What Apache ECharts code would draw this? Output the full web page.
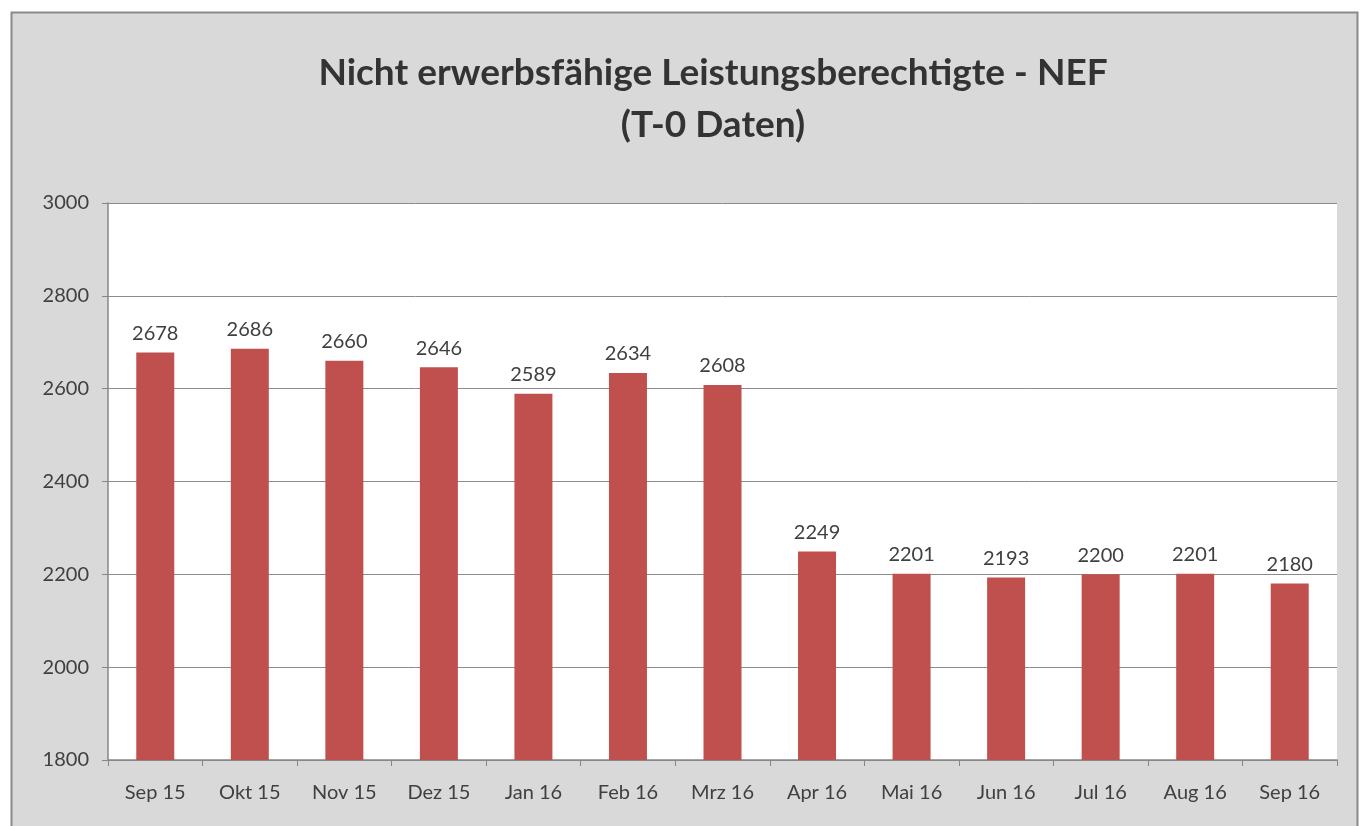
<!DOCTYPE html>
<html><head><meta charset="utf-8">
<script src="https://cdn.jsdelivr.net/npm/echarts@6/dist/echarts.min.js"></script>
<style>html,body{margin:0;padding:0;background:#fff;}#c{width:1366px;height:826px;}</style>
</head><body><div id="c"></div>
<script>
const categories = ['Sep 15','Okt 15','Nov 15','Dez 15','Jan 16','Feb 16','Mrz 16','Apr 16','Mai 16','Jun 16','Jul 16','Aug 16','Sep 16'];
const values = [2678, 2686, 2660, 2646, 2589, 2634, 2608, 2249, 2201, 2193, 2200, 2201, 2180];
const titleLines = ['Nicht erwerbsfähige Leistungsberechtigte - NEF', '(T-0 Daten)'];
const yMin = 1800, yMax = 3000, yStep = 200;

const chart = echarts.init(document.getElementById('c'));
const font = 'Lato, "Open Sans", sans-serif';
chart.setOption({
  backgroundColor: '#ffffff',
  animation: false,
  graphic: [{
    type: 'rect', z: -10, silent: true,
    shape: {x: 11.5, y: 12.5, width: 1346, height: 830},
    style: {fill: '#d9d9d9', stroke: '#8a8a8a', lineWidth: 2}
  }],
  title: {
    text: titleLines.join('\n'),
    left: 708, top: 42, textAlign: 'center',
    textStyle: {fontFamily: font, fontSize: 37, fontWeight: 'bold', color: '#333333', lineHeight: 52}
  },
  grid: {left: 108, top: 203, right: 29, bottom: 66, show: true, backgroundColor: '#ffffff', borderWidth: 0},
  xAxis: {
    type: 'category', data: categories,
    axisLine: {lineStyle: {color: '#868686', width: 1.5}},
    axisTick: {show: true, length: 6, lineStyle: {color: '#868686'}},
    axisLabel: {fontFamily: font, fontSize: 20, color: '#404040', margin: 23}
  },
  yAxis: {
    type: 'value', min: yMin, max: yMax, interval: yStep,
    axisLine: {show: true, lineStyle: {color: '#868686', width: 1.5}},
    axisTick: {show: true, length: 6, lineStyle: {color: '#868686'}},
    splitLine: {lineStyle: {color: '#8c8c8c', width: 1}},
    axisLabel: {fontFamily: font, fontSize: 20, color: '#404040', margin: 19, formatter: v => String(v)}
  },
  series: [{
    type: 'bar', data: values, barWidth: 38,
    itemStyle: {color: '#c0504d'},
    label: {show: true, position: 'top', distance: 9, fontFamily: font, fontSize: 20, color: '#404040'}
  }]
});
</script></body></html>
